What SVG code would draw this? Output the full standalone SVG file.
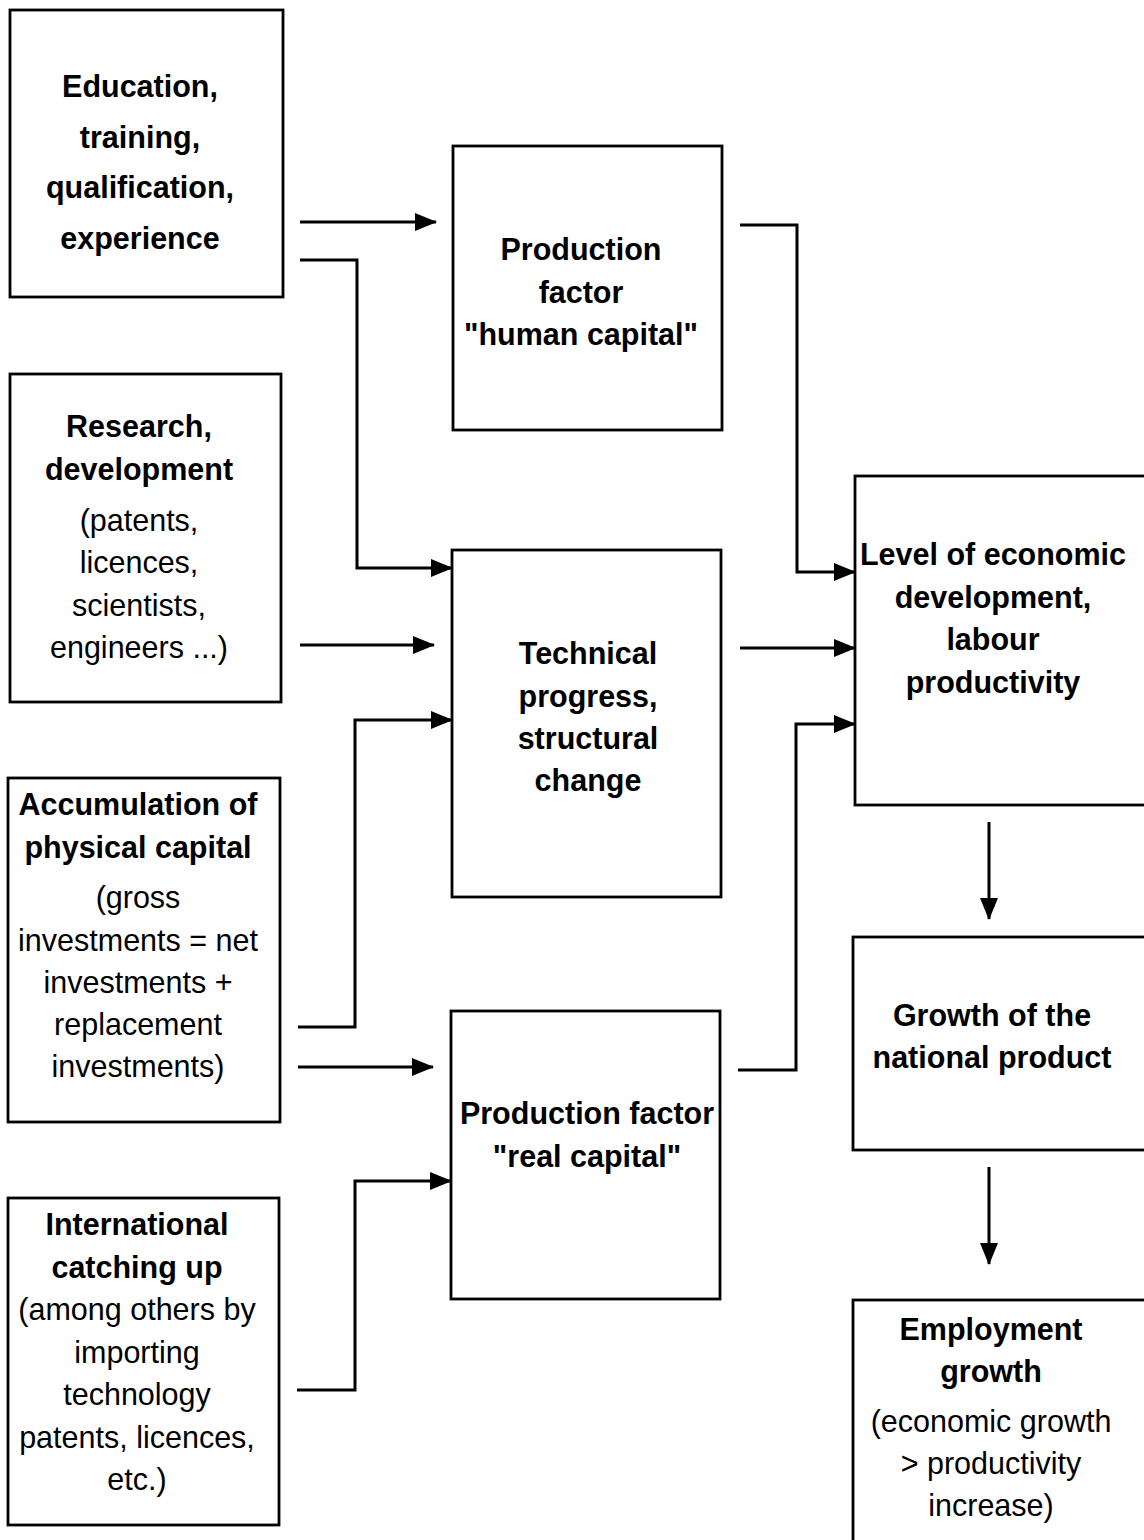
<svg xmlns="http://www.w3.org/2000/svg" width="1144" height="1540" viewBox="0 0 1144 1540">
<defs>
<marker id="ah" markerUnits="userSpaceOnUse" markerWidth="22" markerHeight="18" refX="21" refY="9" orient="auto">
<path d="M0,0 L22,9 L0,18 Z" fill="#000"/>
</marker>
<style>
.box{fill:#fff;stroke:#000;stroke-width:2.8}
.c{fill:none;stroke:#000;stroke-width:3;marker-end:url(#ah)}
text{font-family:"Liberation Sans",Arial,sans-serif;font-size:30.5px;text-anchor:middle;fill:#000}
.b{font-weight:bold}
</style>
</defs>
<rect width="1144" height="1540" fill="#fff"/>
<g id="n-education">
<rect class="box" x="10" y="10" width="273" height="287"/>
<text class="b" x="140" y="97">Education,</text>
<text class="b" x="140" y="148">training,</text>
<text class="b" x="140" y="198">qualification,</text>
<text class="b" x="140" y="249">experience</text>
</g>
<g id="n-research">
<rect class="box" x="10" y="374" width="271" height="328"/>
<text class="b" x="139" y="437">Research,</text>
<text class="b" x="139" y="480">development</text>
<text x="139" y="531">(patents,</text>
<text x="139" y="573">licences,</text>
<text x="139" y="616">scientists,</text>
<text x="139" y="658">engineers ...)</text>
</g>
<g id="n-accumulation">
<rect class="box" x="8" y="778" width="272" height="344"/>
<text class="b" x="138" y="815">Accumulation of</text>
<text class="b" x="138" y="858">physical capital</text>
<text x="138" y="908">(gross</text>
<text x="138" y="951">investments = net</text>
<text x="138" y="993">investments +</text>
<text x="138" y="1035">replacement</text>
<text x="138" y="1077">investments)</text>
</g>
<g id="n-international">
<rect class="box" x="8" y="1198" width="271" height="327"/>
<text class="b" x="137" y="1235">International</text>
<text class="b" x="137" y="1278">catching up</text>
<text x="137" y="1320">(among others by</text>
<text x="137" y="1363">importing</text>
<text x="137" y="1405">technology</text>
<text x="137" y="1448">patents, licences,</text>
<text x="137" y="1490">etc.)</text>
</g>
<g id="n-human">
<rect class="box" x="453" y="146" width="269" height="284"/>
<text class="b" x="581" y="260">Production</text>
<text class="b" x="581" y="303">factor</text>
<text class="b" x="581" y="345">"human capital"</text>
</g>
<g id="n-technical">
<rect class="box" x="452" y="550" width="269" height="347"/>
<text class="b" x="588" y="664">Technical</text>
<text class="b" x="588" y="707">progress,</text>
<text class="b" x="588" y="749">structural</text>
<text class="b" x="588" y="791">change</text>
</g>
<g id="n-real">
<rect class="box" x="451" y="1011" width="269" height="288"/>
<text class="b" x="587" y="1124">Production factor</text>
<text class="b" x="587" y="1167">"real capital"</text>
</g>
<g id="n-level">
<rect class="box" x="855" y="476" width="295" height="329"/>
<text class="b" x="993" y="565">Level of economic</text>
<text class="b" x="993" y="608">development,</text>
<text class="b" x="993" y="650">labour</text>
<text class="b" x="993" y="693">productivity</text>
</g>
<g id="n-growth">
<rect class="box" x="853" y="937" width="297" height="213"/>
<text class="b" x="992" y="1026">Growth of the</text>
<text class="b" x="992" y="1068">national product</text>
</g>
<g id="n-employment">
<rect class="box" x="853" y="1300" width="297" height="260"/>
<text class="b" x="991" y="1340">Employment</text>
<text class="b" x="991" y="1382">growth</text>
<text x="991" y="1432">(economic growth</text>
<text x="991" y="1474">&gt; productivity</text>
<text x="991" y="1516">increase)</text>
</g>
<g id="connectors">
<path class="c" d="M300,222 H436"/>
<path class="c" d="M300,260 H357 V568 H452"/>
<path class="c" d="M300,645 H434"/>
<path class="c" d="M298,1027 H355 V720 H452"/>
<path class="c" d="M298,1067 H433"/>
<path class="c" d="M297,1390 H355 V1181 H451"/>
<path class="c" d="M740,225 H797 V572 H855"/>
<path class="c" d="M740,648 H855"/>
<path class="c" d="M738,1070 H796 V724 H855"/>
<path class="c" d="M989,822 V919"/>
<path class="c" d="M989,1167 V1264"/>
</g>
</svg>
